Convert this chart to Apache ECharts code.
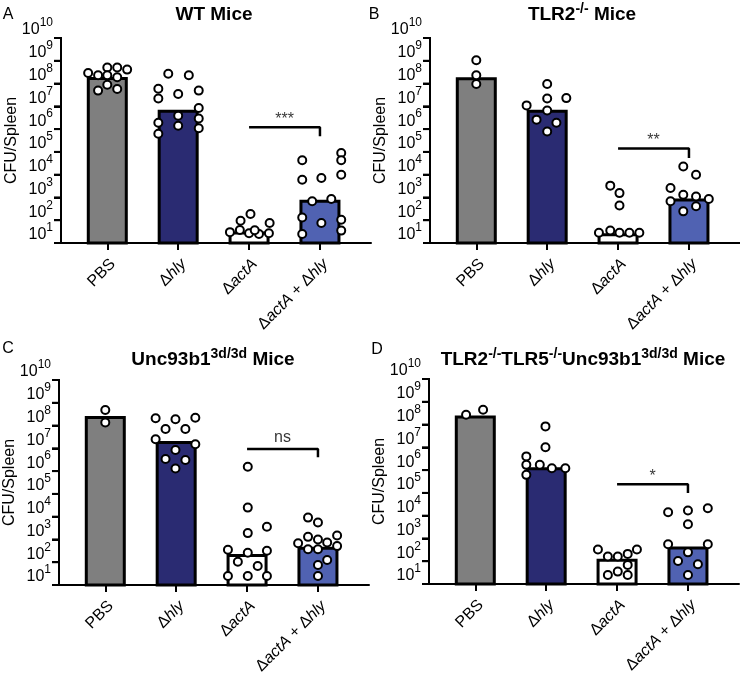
<!DOCTYPE html>
<html><head><meta charset="utf-8">
<script src="https://cdn.jsdelivr.net/npm/echarts@6/dist/echarts.min.js"></script>
<style>html,body{margin:0;padding:0;background:#fff}#c{width:740px;height:677px}</style>
</head><body><div id="c"></div>
<script>
// ---------- data ----------
const categories = ['PBS', 'Δhly', 'ΔactA', 'ΔactA + Δhly'];
const yTickExponents = [1, 2, 3, 4, 5, 6, 7, 8, 9, 10];
const panelLetters = ['A', 'B', 'C', 'D'];
const panelTitles = ['WT Mice', 'TLR2{s|-/-} Mice', 'Unc93b1{s|3d/3d} Mice', 'TLR2{s|-/-}TLR5{s|-/-}Unc93b1{s|3d/3d} Mice'];
const yAxisName = 'CFU/Spleen';

// bar heights (CFU/Spleen), one per category
const barsA = [1.95e8, 7.0e6, 32, 800];
const barsB = [1.9e8, 7.0e6, 27, 900];
const barsC = [2.6e8, 2.1e7, 230, 480];
const barsD = [2.5e8, 1.35e6, 130, 440];

// individual mice: [horizontal jitter within category, CFU/Spleen]
const dotsA = [
  [[-0.27,2.9e8],[-0.13,2.3e8],[0,5.1e8],[0.14,5.1e8],[0.28,4.1e8],[0,2.3e8],[0.14,1.9e8],[0,8.9e7],[-0.13,4.9e7],[0.14,5.8e7]],
  [[-0.14,2.7e8],[0.15,2.3e8],[-0.28,5.9e7],[-0.28,2.2e7],[0,3.5e7],[0.29,4.9e7],[0.29,8.5e6],[-0.28,1.9e6],[0,3.9e6],[0.29,2.9e6],[-0.28,6.3e5],[0,1.4e6],[0.29,1.1e6]],
  [[0.02,186],[-0.12,95],[0.29,76],[-0.27,30],[-0.13,37],[0,27],[0.14,25],[0.28,27],[0.08,36]],
  [[-0.25,4.3e4],[0.3,8.9e4],[0.3,4.3e4],[-0.25,6.0e3],[0.02,7.1e3],[0.3,1.0e4],[-0.11,680],[0.16,850],[-0.25,132],[0.02,76],[0.3,105],[-0.25,25],[0.3,35]]
];
const dotsB = [
  [[0,1.05e9],[0,2.3e8],[0,9.5e7]],
  [[0,9.5e7],[-0.29,1.1e7],[0,2.2e7],[0.27,2.3e7],[0,6.6e6],[-0.15,2.6e6],[0.13,1.9e6],[0,7.9e5]],
  [[-0.11,3300],[0.02,1550],[0.02,440],[-0.27,28],[-0.11,35],[0.02,28],[0.16,28],[0.3,28]],
  [[-0.08,2.3e4],[0.1,1.0e4],[-0.26,2600],[-0.08,1300],[0.1,1100],[0.28,850],[-0.26,680],[0.1,410],[-0.08,245]]
];
const dotsC = [
  [[0,4.8e8],[0,1.35e8]],
  [[-0.29,2.1e8],[-0.01,1.9e8],[0.27,2.2e8],[-0.15,7.1e7],[0.13,7.1e7],[-0.29,2.5e7],[0.27,1.5e7],[-0.01,8.5e6],[-0.15,3.4e6],[0.13,3.1e6],[-0.01,1.3e6]],
  [[0.01,1.55e6],[0.01,2.5e4],[0.28,3600],[0.01,1900],[-0.27,350],[0.28,320],[0.01,260],[-0.13,105],[0.15,68],[-0.27,25],[0.01,25],[0.28,25]],
  [[-0.14,9100],[0,5500],[-0.14,1300],[0,1000],[0.27,1500],[-0.28,680],[0.13,740],[-0.14,370],[0,370],[0.27,510],[0.13,126],[0,76],[0,25]]
];
const dotsD = [
  [[-0.13,2.7e8],[0.11,4.5e8]],
  [[-0.01,8.3e7],[-0.01,1.0e7],[-0.28,4.0e6],[-0.28,1.7e6],[-0.09,1.7e6],[0.08,1.2e6],[0.27,1.2e6],[-0.28,6.2e5]],
  [[-0.27,330],[0.28,330],[-0.13,160],[0.01,160],[0.15,210],[0.15,69],[0.01,35],[-0.13,25],[0.15,25]],
  [[-0.28,1.4e4],[0,1.7e4],[0.28,2.1e4],[0,4200],[-0.28,560],[0.28,560],[0,245],[-0.14,102],[0.14,74],[0,25]]
];

// significance brackets between ΔactA and ΔactA + Δhly: [label, bracket level, end of drop]
const sigA = ['***', 1.2e6, 4.8e5];
const sigB = ['**', 1.4e5, 5.4e4];
const sigC = ['ns', 9.3e6, 4.1e6];
const sigD = ['*', 2.4e5, 9.8e4];

// ---------- chart ----------
const barColors = ['#7f7f7f', '#2a2b72', '#ffffff', '#5062b2'];
const FONT = '"Liberation Sans", Arial, Helvetica, sans-serif';
const panels = [
  {bars: barsA, dots: dotsA, sig: sigA, grid: {left: 61, top: 38, width: 310, height: 205}, title: [214, 15], letter: [8, 15]},
  {bars: barsB, dots: dotsB, sig: sigB, grid: {left: 430, top: 38, width: 310, height: 205}, title: [582, 15], letter: [374, 15]},
  {bars: barsC, dots: dotsC, sig: sigC, grid: {left: 59, top: 380, width: 310, height: 205}, title: [213, 360], letter: [8, 349]},
  {bars: barsD, dots: dotsD, sig: sigD, grid: {left: 429, top: 379, width: 310, height: 205}, title: [583, 360], letter: [377, 350]}
];
// x is a value axis running 0 .. 4.373; categories sit at 0.653 + i
const X_MIN = 0, X_MAX = 4.373, CAT_START = 0.653;
const catPos = categories.map((c, i) => CAT_START + i);
const yLo = Math.pow(10, yTickExponents[0]);
const yHi = Math.pow(10, yTickExponents[yTickExponents.length - 1]);

const catRich = {
  r: {fontSize: 16, fontFamily: FONT, color: '#000'},
  i: {fontSize: 16, fontFamily: FONT, color: '#000', fontStyle: 'italic'}
};
function catLabel(v) {
  const t = categories[Math.round(v - CAT_START)];
  if (t == null) return '';
  return t.split(/(Δ|actA|hly)/).filter(s => s).map(s => {
    if (s === 'actA' || s === 'hly') return '{i|' + s + '}';
    return '{r|' + s + '}';
  }).join('');
}
const axisStroke = {color: '#000', width: 2};

const grids = [], xAxes = [], yAxes = [], series = [], graphics = [];
panels.forEach((p, k) => {
  grids.push(p.grid);
  xAxes.push({
    type: 'value', gridIndex: k, min: X_MIN, max: X_MAX, position: 'bottom',
    axisLine: {show: true, onZero: false, lineStyle: axisStroke},
    axisTick: {show: true, customValues: catPos, length: 7, lineStyle: axisStroke},
    axisLabel: {show: true, customValues: catPos, rotate: 45, margin: 13, verticalAlign: 'top', formatter: catLabel, rich: catRich},
    splitLine: {show: false}
  });
  yAxes.push({
    type: 'log', gridIndex: k, logBase: 10, position: 'left',
    min: yLo, max: yHi, interval: 1,
    name: yAxisName, nameLocation: 'middle', nameGap: 41, nameMoveOverlap: false,
    nameTextStyle: {fontSize: 16, fontFamily: FONT, color: '#000'},
    axisLine: {show: true, onZero: false, lineStyle: axisStroke},
    axisTick: {show: true, inside: false, length: 7, lineStyle: axisStroke},
    axisLabel: {
      margin: 8, verticalAlign: 'bottom',
      formatter: v => '{b|10}{s|' + Math.round(Math.log10(v)) + '}',
      rich: {
        b: {fontSize: 16, fontFamily: FONT, color: '#000', lineHeight: 16, verticalAlign: 'bottom'},
        s: {fontSize: 12, fontFamily: FONT, color: '#000', lineHeight: 12, padding: [0, 0, 9, 0], verticalAlign: 'bottom'}
      }
    },
    splitLine: {show: false}, minorTick: {show: false}
  });
  series.push({
    type: 'bar', xAxisIndex: k, yAxisIndex: k, barWidth: 41, clip: true, z: 2,
    itemStyle: {borderColor: '#000', borderWidth: 3},
    data: p.bars.map((v, i) => ({value: [catPos[i], v], itemStyle: {color: barColors[i]}}))
  });
  series.push({
    type: 'line', xAxisIndex: k, yAxisIndex: k, symbol: 'none', z: 3,
    lineStyle: {color: '#000', width: 2.5},
    data: [[catPos[2], p.sig[1]], [catPos[3], p.sig[1]], [catPos[3], p.sig[2]]]
  });
  series.push({
    type: 'scatter', xAxisIndex: k, yAxisIndex: k, symbolSize: 0, z: 3,
    label: {show: true, position: 'top', distance: p.sig[0] === 'ns' ? 3 : 0, formatter: p.sig[0], color: '#000', fontSize: 16, fontFamily: FONT},
    data: [[(catPos[2] + catPos[3]) / 2, p.sig[1]]]
  });
  series.push({
    type: 'scatter', xAxisIndex: k, yAxisIndex: k, symbol: 'circle', symbolSize: 8, z: 5,
    itemStyle: {color: '#fff', borderColor: '#000', borderWidth: 2, opacity: 1},
    data: p.dots.flatMap((grp, i) => grp.map(d => [catPos[i] + d[0], d[1]]))
  });
  graphics.push({
    type: 'text', x: p.title[0], y: p.title[1], z: 10,
    style: {
      text: panelTitles[k], align: 'center', verticalAlign: 'middle',
      rich: {
        s: {fontSize: 14, fontWeight: 'bold', fontFamily: FONT, fill: '#000', lineHeight: 14, padding: [0, 0, 9, 0], verticalAlign: 'bottom'}
      },
      font: 'bold 19px ' + FONT, fill: '#000', lineHeight: 20
    }
  });
  graphics.push({
    type: 'text', x: p.letter[0], y: p.letter[1], z: 10,
    style: {text: panelLetters[k], align: 'center', verticalAlign: 'middle', font: '16px ' + FONT, fill: '#000'}
  });
});

const chart = echarts.init(document.getElementById('c'), null, {renderer: 'canvas'});
chart.setOption({
  animation: false,
  backgroundColor: '#fff',
  textStyle: {fontFamily: FONT},
  grid: grids, xAxis: xAxes, yAxis: yAxes, series: series, graphic: graphics
});

// y spine + outward decade ticks, positioned through the chart's own scales, on a top layer
const spine = [];
panels.forEach((p, k) => {
  const finder = {xAxisIndex: k, yAxisIndex: k};
  const top = chart.convertToPixel(finder, [X_MIN, yHi]);
  const bot = chart.convertToPixel(finder, [X_MIN, yLo]);
  if (!top || !bot) return;
  spine.push({
    type: 'line', z: 100, zlevel: 2, silent: true,
    shape: {x1: top[0], y1: top[1] - 1, x2: bot[0], y2: bot[1] + 1},
    style: {stroke: '#000', lineWidth: 2}
  });
  yTickExponents.forEach(e => {
    const pt = chart.convertToPixel(finder, [X_MIN, Math.pow(10, e)]);
    spine.push({
      type: 'line', z: 100, zlevel: 2, silent: true,
      shape: {x1: pt[0] - 7, y1: pt[1], x2: pt[0], y2: pt[1]},
      style: {stroke: '#000', lineWidth: 2}
    });
  });
});
chart.setOption({graphic: graphics.concat(spine)});
</script></body></html>
